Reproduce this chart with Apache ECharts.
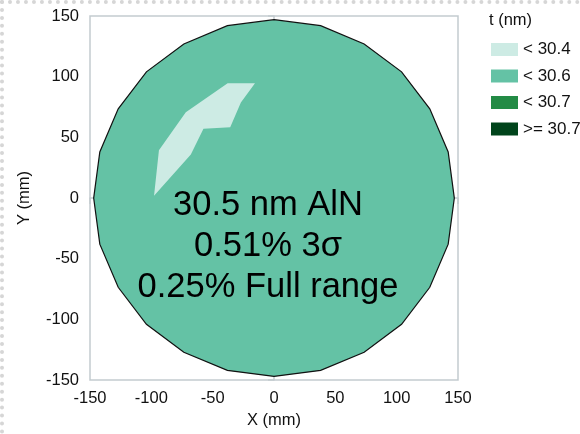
<!DOCTYPE html>
<html><head><meta charset="utf-8">
<script src="https://cdn.jsdelivr.net/npm/echarts@6/dist/echarts.min.js"></script>
<style>
html,body{margin:0;padding:0;background:#fff;}
#c{width:580px;height:434px;}
#edge{position:absolute;left:0;top:0;width:580px;height:434px;box-sizing:border-box;border-top:4px dotted #d6d6d6;border-left:4px dotted #d6d6d6;pointer-events:none;}
</style></head>
<body>
<div id="c"></div><div id="edge"></div>
<script>
// Wafer outline (mm)
const waferX = [0, 38, 73.5, 104, 127, 142, 147, 142, 127, 104, 73.5, 38, 0, -38, -73.5, -104, -127, -142, -147, -142, -127, -104, -73.5, -38];
const waferY = [147, 142, 127, 104, 73.5, 38, 0, -38, -73.5, -104, -127, -142, -147, -142, -127, -104, -73.5, -38, 0, 38, 73.5, 104, 127, 142];
// Thin region (< 30.4 nm)
const lowX = [-97.8, -93.8, -71.9, -37.8, -15.5, -27, -35.7, -57.5, -67.8];
const lowY = [1.9, 39.4, 70.7, 94.6, 94.6, 78.8, 58.4, 57.1, 35.9];
const levels = ['< 30.4', '< 30.6', '< 30.7', '>= 30.7'];
const levelColors = ['#cdebe4', '#64c2a5', '#238b45', '#00441b'];
const ticks = [-150, -100, -50, 0, 50, 100, 150];
const notes = ['30.5 nm AlN', '0.51% 3σ', '0.25% Full range'];

const FONT = 'Liberation Sans, Arial, sans-serif';
const chart = echarts.init(document.getElementById('c'), null, {renderer: 'canvas'});

function polySeries(name, xs, ys, color, stroke) {
  return {
    name: name, type: 'custom', coordinateSystem: 'cartesian2d',
    itemStyle: {color: color},
    data: xs.map((x, i) => [x, ys[i]]),
    renderItem: function (params, api) {
      if (params.dataIndex !== 0) return null;
      const pts = xs.map((x, i) => api.coord([x, ys[i]]));
      return {
        type: 'polygon', shape: {points: pts},
        style: {fill: color, stroke: stroke || null, lineWidth: stroke ? 1.2 : 0}
      };
    },
    silent: true
  };
}
function emptySeries(name, color) {
  return {name: name, type: 'custom', coordinateSystem: 'cartesian2d', itemStyle: {color: color},
    data: [], renderItem: function () { return null; }};
}

const axisCommon = {
  type: 'value', min: ticks[0], max: ticks[ticks.length - 1], interval: 50,
  axisLine: {show: true, lineStyle: {color: '#c3cbcf', width: 1.5}},
  axisTick: {show: true, length: 6, lineStyle: {color: '#c3cbcf', width: 1.5}},
  splitLine: {show: false},
  axisLabel: {color: '#111', fontSize: 16.5, fontFamily: FONT},
  nameTextStyle: {color: '#111', fontSize: 16.5, fontFamily: FONT}
};

chart.setOption({
  animation: false,
  backgroundColor: '#fff',
  title: {text: 't (nm)', left: 484, top: 7, textStyle: {fontSize: 16.5, fontWeight: 'normal', color: '#111', fontFamily: FONT}},
  legend: {
    orient: 'vertical', left: 486, top: 36, itemWidth: 27, itemHeight: 13, itemGap: 9.5,
    icon: 'rect', data: levels, selectedMode: false,
    textStyle: {fontSize: 17, color: '#111', fontFamily: FONT}
  },
  grid: {left: 90, right: 122, top: 16, bottom: 50, show: true, borderColor: '#c3cbcf', borderWidth: 1.5, backgroundColor: 'transparent'},
  xAxis: Object.assign({}, axisCommon, {name: 'X (mm)', nameLocation: 'middle', nameGap: 30,
    axisLabel: Object.assign({}, axisCommon.axisLabel, {margin: 10})}),
  yAxis: Object.assign({}, axisCommon, {name: 'Y (mm)', nameLocation: 'middle', nameGap: 57,
    axisLabel: Object.assign({}, axisCommon.axisLabel, {margin: 11})}),
  series: [
    polySeries(levels[1], waferX, waferY, levelColors[1], '#111'),
    polySeries(levels[0], lowX, lowY, levelColors[0], null),
    emptySeries(levels[2], levelColors[2]),
    emptySeries(levels[3], levelColors[3])
  ],
  graphic: notes.map((t, i) => ({
    type: 'text', x: 268, y: 205 + i * 41, z: 100,
    style: {text: t, fill: '#000', fontSize: 34.5, fontFamily: FONT, textAlign: 'center', textVerticalAlign: 'middle'}
  }))
});
</script>
</body></html>
